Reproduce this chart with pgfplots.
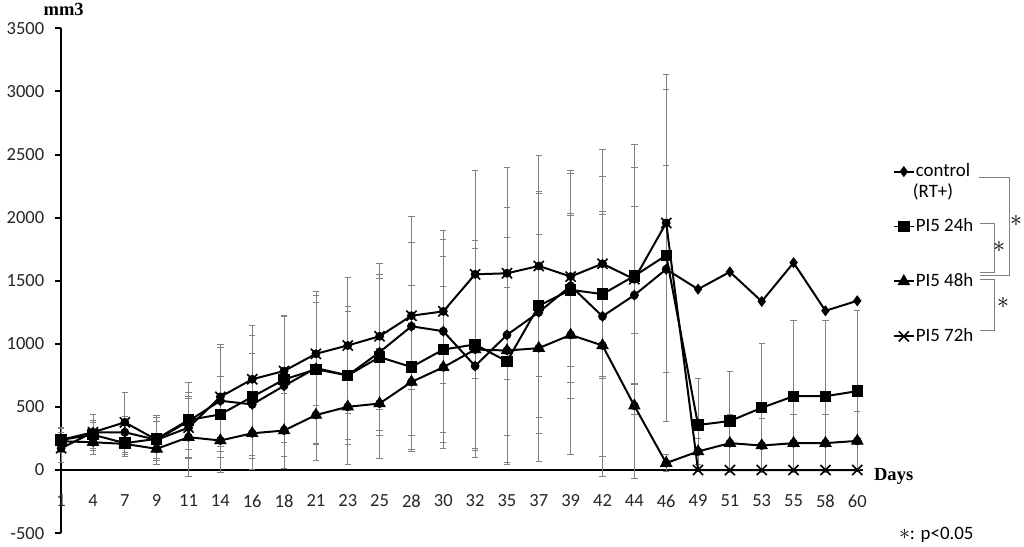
\documentclass[border=0pt]{standalone}
\usepackage{fontspec}
\setmainfont{Carlito}
\newfontfamily\timesfont{Liberation Serif}
\usepackage{pgfplots}
\pgfplotsset{compat=1.18}
\usepackage{pgfplotstable}

% x = index of the day (1,4,7,...,60 -> 0..25), y = mean, e = error
\pgfplotstableread{
x y e
0 239 90
1 299 144
2 299 123
3 239 191
4 388 224
5 549 446
6 520 401
7 667 556
8 808 607
9 750 550
10 934 617
11 1139 867
12 1100 800
13 824 722
14 1071 1008
15 1250 957
16 1459 893
17 1218 1107
18 1386 700
19 1591 820
20 1433 0
21 1570 0
22 1336 0
23 1643 0
24 1262 0
25 1341 0
}\ctrl
\pgfplotstableread{
x y e
0 239 100
1 280 110
2 213 105
3 247 170
4 396 297
5 441 297
6 580 486
7 717 500
8 798 588
9 750 510
10 895 622
11 816 650
12 955 736
13 995 824
14 861 585
15 1302 888
16 1428 603
17 1394 656
18 1538 861
19 1701 1312
20 357 367
21 388 394
22 493 512
23 585 599
24 585 599
25 625 637
}\pia
\pgfplotstableread{
x y e
0 228 70
1 220 99
2 207 80
3 168 120
4 260 310
5 234 250
6 291 288
7 313 297
8 436 363
9 501 460
10 527 433
11 698 551
12 814 640
13 955 800
14 947 900
15 966 898
16 1071 950
17 987 1037
18 509 572
19 55 66
20 147 100
21 213 230
22 194 215
23 213 230
24 213 230
25 231 230
}\pib
\pgfplotstableread{
x y e
0 173 110
1 299 80
2 378 236
3 239 150
4 336 244
5 580 395
6 719 425
7 785 440
8 921 407
9 987 540
10 1060 578
11 1223 583
12 1257 570
13 1551 821
14 1559 837
15 1617 879
16 1533 839
17 1635 906
18 1512 1071
19 1958 1181
20 0 0
21 0 0
22 0 0
23 0 0
24 0 0
25 0 0
}\pic

\begin{document}
\begin{tikzpicture}
\begin{scope}[shift={(-28.25pt,267.85pt)}, x=0.5pt, y=-0.5pt]
\path[use as bounding box] (0,0) rectangle (1024,549);
\end{scope}
\begin{axis}[
  scale only axis, width=402.7pt, height=253.6pt,
  xmin=0, xmax=25.17, ymin=-500, ymax=3500,
  axis x line=middle, axis y line=left,
  axis line style={-, line width=1.2pt, black},
  xtick={0,...,25},
  xticklabels={1,4,7,9,11,14,16,18,21,23,25,28,30,32,35,37,39,42,44,46,49,51,53,55,58,60},
  ytick={-500,0,500,...,3500},
  yticklabels={-500,0,500,1000,1500,2000,2500,3000,3500},
  xtick style={draw=none},
  ytick style={line width=1pt, black},
  tick align=outside, major tick length=3pt,
  hide obscured x ticks=false, hide obscured y ticks=false,
  ticklabel style={font=\fontsize{9.3}{11}\selectfont, text=black!85},
  xticklabel style={yshift=-6pt},
  yticklabel style={xshift=-2pt},
  clip=false,
  legend style={at={(rel axis cs:1.0372,0.735)}, anchor=north west, draw=none, fill=none,
    inner sep=0pt, font=\fontsize{9.5}{11}\selectfont, row sep=18.5pt,
    nodes={inner sep=0.5pt}},
  legend cell align=left,
  legend image code/.code={\draw[#1, mark repeat=2, mark phase=2] plot coordinates {(0pt,0pt) (5pt,0pt) (10pt,0pt)};},
]
% error bars (drawn first, behind the lines)
\addplot[forget plot, only marks, mark=none, restrict x to domain=0:19,
  error bars/.cd, y dir=both, y explicit,
  error bar style={gray, line width=0.4pt},
  error mark options={rotate=90, gray, mark size=1.6pt, line width=0.4pt}]
  table[x=x, y=y, y error=e] {\ctrl};
\addplot[forget plot, only marks, mark=none,
  error bars/.cd, y dir=both, y explicit,
  error bar style={gray, line width=0.4pt},
  error mark options={rotate=90, gray, mark size=1.6pt, line width=0.4pt}]
  table[x=x, y=y, y error=e] {\pia};
\addplot[forget plot, only marks, mark=none,
  error bars/.cd, y dir=both, y explicit,
  error bar style={gray, line width=0.4pt},
  error mark options={rotate=90, gray, mark size=1.6pt, line width=0.4pt}]
  table[x=x, y=y, y error=e] {\pib};
\addplot[forget plot, only marks, mark=none, restrict x to domain=0:19,
  error bars/.cd, y dir=both, y explicit,
  error bar style={gray, line width=0.4pt},
  error mark options={rotate=90, gray, mark size=1.6pt, line width=0.4pt}]
  table[x=x, y=y, y error=e] {\pic};
% lines
\addplot[black, line width=1pt, mark=diamond*, mark size=2.4pt, mark options={solid, line width=0.5pt}]
  table[x=x, y=y] {\ctrl};
\addplot[black, line width=1pt, mark=square*, mark size=2.6pt, mark options={solid, line width=0.5pt}]
  table[x=x, y=y] {\pia};
\addplot[black, line width=1pt, mark=triangle*, mark size=3.2pt, mark options={solid, line width=0.5pt}]
  table[x=x, y=y] {\pib};
\addplot[black, line width=1pt, mark=x, mark size=3.6pt, mark options={solid, line width=0.8pt}]
  table[x=x, y=y] {\pic};
\legend{control, PI5 24h, PI5 48h, PI5 72h}
\end{axis}
\begin{scope}[shift={(-28.25pt,267.85pt)}, x=0.5pt, y=-0.5pt]
\node[anchor=west, inner sep=0pt, font=\fontsize{9.5}{11}\selectfont] at (912,193) {(RT+)};
\draw[gray, line width=0.5pt] (979,178) -- (1009,178) -- (1009,277) -- (980,277);
\draw[gray, line width=0.5pt] (980,225) -- (994,225) -- (994,274) -- (980,274);
\draw[gray, line width=0.5pt] (980,281) -- (994,281) -- (994,332) -- (980,332);
\node[inner sep=0pt, font=\fontsize{13}{15}\selectfont] at (1016,222) {$\ast$};
\node[inner sep=0pt, font=\fontsize{13}{15}\selectfont] at (999,248) {$\ast$};
\node[inner sep=0pt, font=\fontsize{13}{15}\selectfont] at (1003,304) {$\ast$};
\node[inner sep=0pt, font=\timesfont\bfseries\fontsize{9.3}{11}\selectfont] at (59,10) {mm3};
\node[anchor=west, inner sep=0pt, font=\timesfont\bfseries\fontsize{9.3}{11}\selectfont] at (873,479) {Days};
\node[anchor=west, inner sep=0pt, font=\fontsize{9.5}{11}\selectfont] at (898,537) {{\fontsize{11}{13}\selectfont$\ast$}: p<0.05};
\end{scope}
\end{tikzpicture}
\end{document}
